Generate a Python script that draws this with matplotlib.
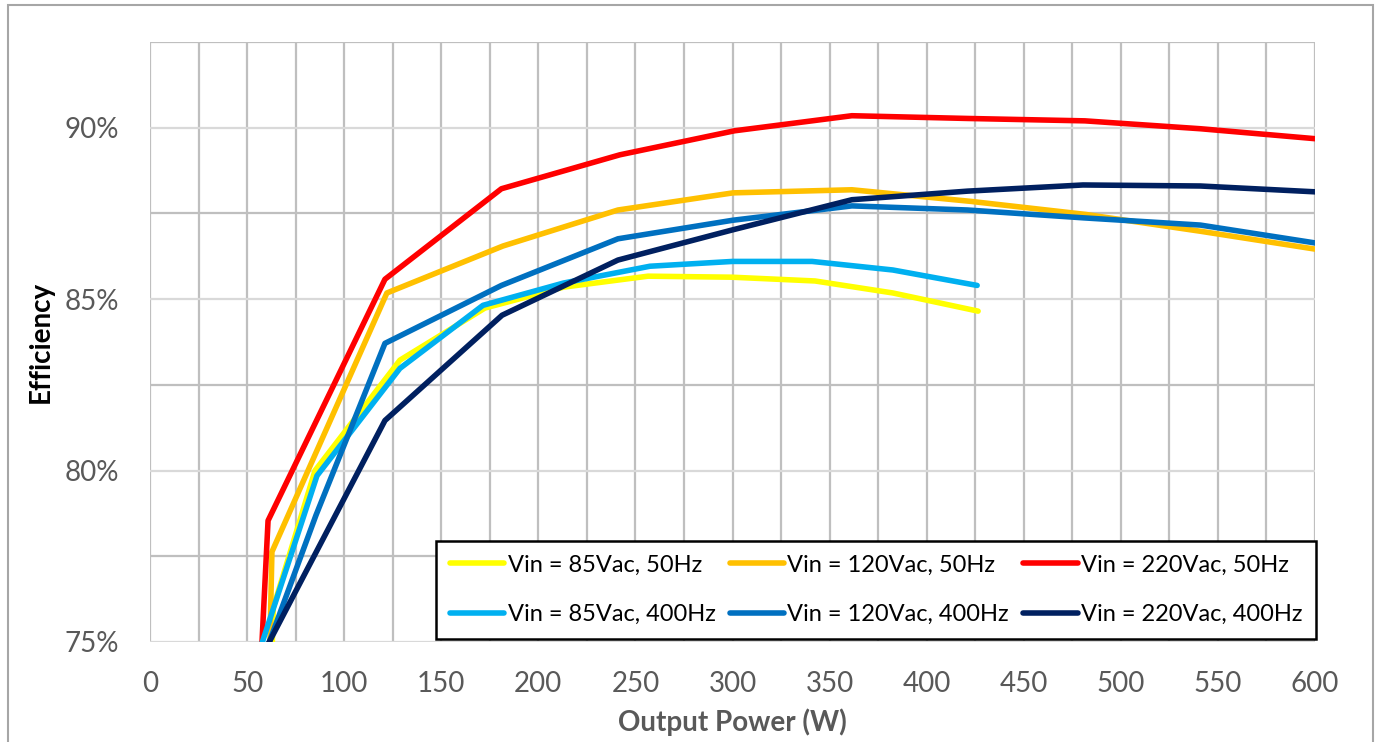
import matplotlib
matplotlib.use("Agg")
import matplotlib.pyplot as plt
from matplotlib.patches import Rectangle
import numpy as np

plt.rcParams['font.family'] = ['Lato', 'DejaVu Sans']

# ---- data (Output power W, efficiency %) ----
w_85_50 = [62.5, 63.5, 85.0, 128.7, 172.5, 213.0, 256.5, 299.7, 342.5, 382.6, 426.5]
e_85_50 = [74.0, 76.0, 80.0, 83.22, 84.74, 85.35, 85.67, 85.64, 85.53, 85.18, 84.65]

w_120_50 = [61.0, 62.8, 122.0, 181.8, 241.0, 300.3, 361.5, 423.0, 482.0, 541.0, 600.0]
e_120_50 = [73.0, 77.63, 85.18, 86.55, 87.6, 88.1, 88.19, 87.85, 87.47, 86.98, 86.46]

w_220_50 = [56.8, 60.8, 121.0, 181.0, 242.0, 301.0, 361.5, 421.0, 481.5, 541.0, 600.0]
e_220_50 = [74.0, 78.54, 85.58, 88.22, 89.21, 89.91, 90.35, 90.27, 90.2, 89.97, 89.68]

w_85_400 = [57.0, 86.0, 128.7, 171.5, 213.0, 257.5, 300.0, 341.0, 382.6, 426.0]
e_85_400 = [74.85, 79.85, 82.98, 84.82, 85.47, 85.96, 86.1, 86.1, 85.85, 85.4]

w_120_400 = [59.5, 85.5, 121.0, 181.0, 241.0, 300.0, 361.5, 421.0, 481.0, 541.0, 600.0]
e_120_400 = [74.7, 78.7, 83.71, 85.4, 86.76, 87.3, 87.72, 87.6, 87.37, 87.16, 86.64]

w_220_400 = [60.0, 121.0, 181.3, 241.0, 300.0, 361.5, 421.0, 480.5, 541.0, 600.0]
e_220_400 = [74.85, 81.46, 84.53, 86.14, 87.02, 87.9, 88.15, 88.33, 88.3, 88.13]

labels = ["Vin = 85Vac, 50Hz", "Vin = 120Vac, 50Hz", "Vin = 220Vac, 50Hz",
          "Vin = 85Vac, 400Hz", "Vin = 120Vac, 400Hz", "Vin = 220Vac, 400Hz"]
colors = ["#FFFF00", "#FFC000", "#FF0000", "#00B0F0", "#0070C0", "#002060"]
series_w = [w_85_50, w_120_50, w_220_50, w_85_400, w_120_400, w_220_400]
series_e = [e_85_50, e_120_50, e_220_50, e_85_400, e_120_400, e_220_400]

x_ticks = list(range(0, 601, 50))
y_ticks = [75, 80, 85, 90]

W, H = 1378, 742
fig = plt.figure(figsize=(W / 100, H / 100), dpi=100)
ax = fig.add_axes([150 / W, 1 - 642 / H, 1165 / W, 600 / H])

hmap = {}
for i in range(6):
    (h,) = ax.plot(series_w[i], series_e[i], color=colors[i], lw=4.0,
                   solid_joinstyle='round', solid_capstyle='round',
                   label=labels[i], zorder=3 + i)
    hmap[i] = h

ax.set_xlim(0, 600)
ax.set_ylim(75, 92.5)
ax.set_xticks(x_ticks)
ax.set_xticks(np.arange(25, 600, 50), minor=True)
ax.set_yticks(y_ticks)
ax.set_yticks([77.5, 82.5, 87.5, 92.5], minor=True)
ax.set_yticklabels([f"{t}%" for t in y_ticks])
ax.set_axisbelow(True)

ax.grid(axis='x', which='both', color='#bfbfbf', lw=1.6)
ax.grid(axis='y', which='major', color='#d9d9d9', lw=1.6)
ax.grid(axis='y', which='minor', color='#bfbfbf', lw=1.6)

for s in ax.spines.values():
    s.set_visible(False)

ax.tick_params(axis='both', which='both', length=0, labelsize=20, labelcolor='#595959')
ax.tick_params(axis='y', pad=22)
ax.tick_params(axis='x', pad=21)

ax.set_xlabel("Output Power (W)", fontsize=20, fontweight='bold', color='#595959', labelpad=8)
ax.set_ylabel("Efficiency", fontsize=20, fontweight='bold', color='black', labelpad=8)

order = [0, 3, 1, 4, 2, 5]
leg = ax.legend([hmap[i] for i in order], [labels[i] for i in order], ncol=3,
                loc='upper left', bbox_to_anchor=((436 - 150) / 1165, (642 - 541) / 600),
                fontsize=17, frameon=True, fancybox=False, framealpha=1,
                edgecolor='black', handlelength=2.3, handletextpad=0.15,
                columnspacing=0.6, labelspacing=1.2, borderpad=0.58, borderaxespad=0)
leg.get_frame().set_linewidth(1.8)
leg.set_zorder(20)

# outer figure border
fig.patches.append(Rectangle((8 / W, -0.05), (1373 - 8) / W, 1.05 - 5 / H,
                             transform=fig.transFigure, fill=False,
                             edgecolor='#a6a6a6', lw=1.5))

fig.savefig("out.png", dpi=100)
